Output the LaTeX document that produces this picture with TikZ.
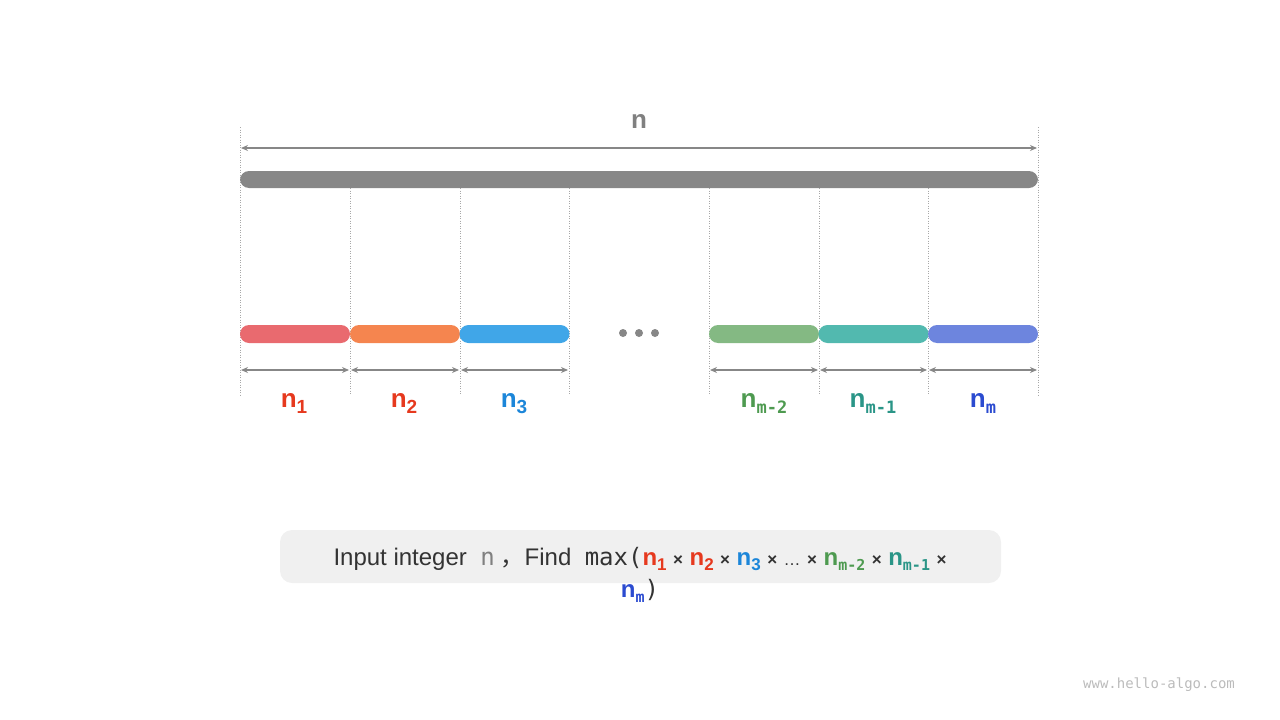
\documentclass[tikz,border=0pt]{standalone}
\usepackage{fontspec}
\usepackage{xcolor}
\usepackage{tikz}
\setmainfont{Liberation Sans}
\setmonofont{DejaVu Sans Mono}
\newfontfamily\cjk{Noto Sans CJK SC}
\usetikzlibrary{arrows.meta}

\definecolor{bargrey}{HTML}{878787}
\definecolor{lblgrey}{HTML}{808080}
\definecolor{guidegrey}{HTML}{A8A8A8}
\definecolor{wwwgrey}{HTML}{BBBBBB}
\definecolor{boxgrey}{HTML}{F0F0F0}
\definecolor{segred}{HTML}{E96A6F}
\definecolor{segorange}{HTML}{F5854F}
\definecolor{segblue}{HTML}{40A6E8}
\definecolor{seggreen}{HTML}{84B983}
\definecolor{segteal}{HTML}{52B9AF}
\definecolor{segindigo}{HTML}{6D85DE}
\definecolor{txtred}{HTML}{E6391E}
\definecolor{txtblue}{HTML}{1C86D9}
\definecolor{txtgreen}{HTML}{4E9A50}
\definecolor{txtteal}{HTML}{2A9587}
\definecolor{txtindigo}{HTML}{2B4BD0}

% subscripts of the labels
\newcommand{\lsub}[1]{\raisebox{-6pt}{\fontsize{19}{19}\selectfont #1}}
\newcommand{\lmsub}[1]{\raisebox{-6pt}{\fontsize{17}{17}\selectfont\ttfamily\bfseries #1}}
% subscripts in the question line
\newcommand{\qsub}[1]{\raisebox{-5pt}{\fontsize{17}{17}\selectfont #1}}
\newcommand{\qmsub}[1]{\raisebox{-5pt}{\fontsize{15}{15}\selectfont\ttfamily\bfseries #1}}
\newcommand{\qtimes}{\hspace{6.5pt}{\fontsize{17}{17}\selectfont\bfseries ×}\hspace{6.5pt}}

\begin{document}
\begin{tikzpicture}[x=1pt,y=-1pt,%
% common options for the bars:
seg/.style = {rectangle, rounded corners=9pt, minimum width=110pt,
            minimum height=18pt, inner sep=0},
% common options for the dimension lines:
dim/.style = {draw=bargrey, line width=1.4pt,
            {Stealth[length=7pt,width=6pt]}-{Stealth[length=7pt,width=6pt]}},
guide/.style = {draw=guidegrey, line width=0.8pt, dash pattern=on 1pt off 1.5pt},
% common options for the labels:
lbl/.style = {font=\fontsize{26}{28}\selectfont\bfseries, inner sep=0, anchor=base}]
\useasboundingbox (0,0) rectangle (1280,720);

% guides
\draw[guide] (240,127) -- (240,395);
\draw[guide] (1038,127) -- (1038,395);
\draw[guide] (350,188) -- (350,395);
\draw[guide] (460,188) -- (460,395);
\draw[guide] (569,188) -- (569,395);
\draw[guide] (709,188) -- (709,395);
\draw[guide] (819,188) -- (819,395);
\draw[guide] (928,188) -- (928,395);

% whole length
\node[lbl, text=lblgrey] (N) at (639,128) {n};
\coordinate (L) at (241,148);
\coordinate (R) at (1037,148);
\draw[dim] (L) -- (R);
\node[seg, fill=bargrey, minimum width=798pt, minimum height=17pt] (whole) at (639,179.5) {};

% parts
\node[seg, fill=segred] (s1) at (295,334) {};
\node[seg, fill=segorange] (s2) at (405,334) {};
\node[seg, fill=segblue] (s3) at (514.5,334) {};
\node[seg, fill=seggreen] (s4) at (764,334) {};
\node[seg, fill=segteal] (s5) at (873.5,334) {};
\node[seg, fill=segindigo] (s6) at (983,334) {};
\fill[bargrey] (623,333) circle (4) (639,333) circle (4) (655,333) circle (4);

% part lengths
\coordinate (a0) at (241,370);
\coordinate (a1) at (349,370);
\coordinate (a2) at (351,370);
\coordinate (a3) at (459,370);
\coordinate (a4) at (461,370);
\coordinate (a5) at (568,370);
\coordinate (b0) at (710,370);
\coordinate (b1) at (818,370);
\coordinate (b2) at (820,370);
\coordinate (b3) at (927,370);
\coordinate (b4) at (929,370);
\coordinate (b5) at (1037,370);
\draw[dim] (a0) -- (a1);
\draw[dim] (a2) -- (a3);
\draw[dim] (a4) -- (a5);
\draw[dim] (b0) -- (b1);
\draw[dim] (b2) -- (b3);
\draw[dim] (b4) -- (b5);

\node[lbl, text=txtred] (n1) at (294,407) {n\lsub{1}};
\node[lbl, text=txtred] (n2) at (404,407) {n\lsub{2}};
\node[lbl, text=txtblue] (n3) at (514,407) {n\lsub{3}};
\node[lbl, text=txtgreen] (n4) at (764,407) {n\lmsub{m-2}};
\node[lbl, text=txtteal] (n5) at (873,407) {n\lmsub{m-1}};
\node[lbl, text=txtindigo] (n6) at (983,407) {n\lmsub{m}};

% question
\node[rectangle, fill=boxgrey, rounded corners=12pt, minimum width=721pt,
      minimum height=53pt, inner sep=0] (box) at (640.5,556.5) {};
\node[anchor=base, inner sep=0, text=black!80, font=\fontsize{24}{26}\selectfont] (q1) at (640,565)
  {Input integer\ \ {\ttfamily\color{lblgrey}n}\hspace{6pt}{\cjk ，}Find\ \ {\ttfamily max(}{\bfseries\color{txtred}n\qsub{1}}\qtimes
   {\bfseries\color{txtred}n\qsub{2}}\qtimes{\bfseries\color{txtblue}n\qsub{3}}\qtimes{\fontsize{17}{17}\selectfont …}\qtimes
   {\bfseries\color{txtgreen}n\qmsub{m-2}}\qtimes{\bfseries\color{txtteal}n\qmsub{m-1}}\qtimes};
\node[anchor=base, inner sep=0, text=black!80, font=\fontsize{24}{26}\selectfont] (q2) at (640,597)
  {{\bfseries\color{txtindigo}n\qmsub{m}}{\ttfamily )}};

% watermark
\node[text=wwwgrey, font=\fontsize{14}{14}\selectfont\ttfamily, inner sep=0] (www) at (1159,685) {www.hello-algo.com};
\end{tikzpicture}
\end{document}
